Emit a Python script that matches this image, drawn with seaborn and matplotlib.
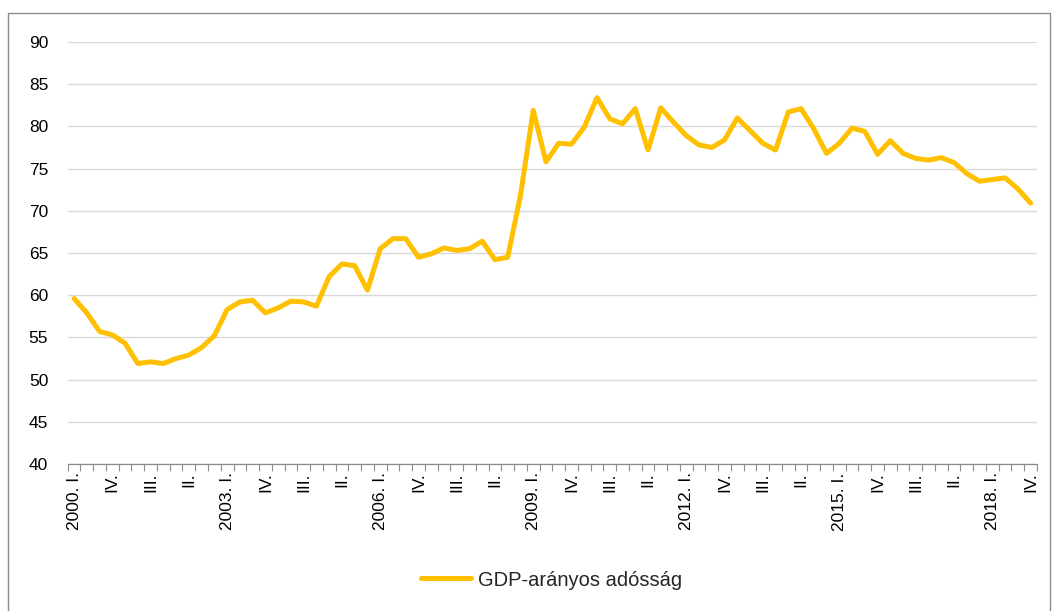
import matplotlib
matplotlib.use("Agg")
import matplotlib.pyplot as plt
from matplotlib.patches import Rectangle
from matplotlib.ticker import FixedLocator
import numpy as np
import pandas as pd
import seaborn as sns

# Quarterly series, 2000 Q1 – 2018 Q4
years = [y for y in range(2000, 2019) for _ in range(4)]
quarters = ["I.", "II.", "III.", "IV."] * 19
debt_ratio = [
    59.6, 57.9, 55.7, 55.3, 54.3, 51.9, 52.1, 51.9, 52.5, 52.9,
    53.8, 55.2, 58.3, 59.2, 59.4, 57.9, 58.5, 59.3, 59.2, 58.7,
    62.2, 63.7, 63.5, 60.6, 65.5, 66.7, 66.7, 64.5, 64.9, 65.6,
    65.3, 65.5, 66.4, 64.2, 64.5, 71.8, 81.9, 75.8, 78.0, 77.9,
    79.9, 83.4, 80.9, 80.3, 82.1, 77.2, 82.2, 80.5, 78.9, 77.8,
    77.5, 78.4, 81.0, 79.5, 78.0, 77.2, 81.7, 82.1, 79.7, 76.8,
    78.0, 79.8, 79.4, 76.7, 78.3, 76.8, 76.2, 76.0, 76.3, 75.7,
    74.4, 73.5, 73.7, 73.9, 72.6, 70.9,
]
series_name = "GDP-arányos adósság"
y_ticks = [40, 45, 50, 55, 60, 65, 70, 75, 80, 85, 90]

df = pd.DataFrame({"idx": np.arange(len(debt_ratio)), "value": debt_ratio})
labels = [f"{y}. I." if q == "I." else q for y, q in zip(years, quarters)]

sns.set_style("white")
plt.rcParams["font.family"] = ["Liberation Sans", "DejaVu Sans"]

fig = plt.figure(figsize=(10.53, 6.11), dpi=100)
ax = fig.add_axes([0.0643, 0.2406, 0.9205, 0.6907])

line_color = "#FFC000"
line_width = 3.6

sns.lineplot(data=df, x="idx", y="value", ax=ax, color=line_color,
             linewidth=line_width, solid_joinstyle="round",
             solid_capstyle="round", legend=False, zorder=3)

ax.set_xlim(-0.5, len(debt_ratio) - 0.5)
ax.set_ylim(40, 90)
ax.set_yticks(y_ticks)
ax.set_yticklabels([str(v) for v in y_ticks], fontsize=12.5, color="#000000")
ax.yaxis.grid(True, color="#D9D9D9", linewidth=1.0)
ax.xaxis.grid(False)

major = list(range(0, len(debt_ratio), 3))
ax.xaxis.set_major_locator(FixedLocator(major))
ax.set_xticklabels([labels[i] for i in major], rotation=90, fontsize=12.5,
                   color="#000000")
ax.xaxis.set_minor_locator(FixedLocator(np.arange(-0.5, len(debt_ratio), 1.0)))
ax.tick_params(axis="x", which="major", length=0, pad=6)
ax.tick_params(axis="x", which="minor", length=5, width=0.8, color="#8C8C8C",
               direction="out", bottom=True)
ax.tick_params(axis="y", length=0, pad=14)

for s in ["top", "right", "left"]:
    ax.spines[s].set_visible(False)
ax.spines["bottom"].set_color("#8C8C8C")
ax.spines["bottom"].set_linewidth(0.9)
ax.set_xlabel("")
ax.set_ylabel("")

handle = plt.Line2D([], [], color=line_color, linewidth=line_width,
                    solid_capstyle="round")
fig.legend([handle], [series_name], loc="center",
           bbox_to_anchor=(0.5237, 0.0507), frameon=False,
           handlelength=2.5, handletextpad=0.35,
           prop={"family": ["Liberation Sans", "DejaVu Sans"], "size": 14.5})

fig.patches.append(Rectangle((8 / 1053, -0.02), (1050 - 8) / 1053,
                             1 - 13 / 611 + 0.02, transform=fig.transFigure,
                             fill=False, edgecolor="#8C8C8C", linewidth=1.0))

fig.savefig("out.png", dpi=100)
